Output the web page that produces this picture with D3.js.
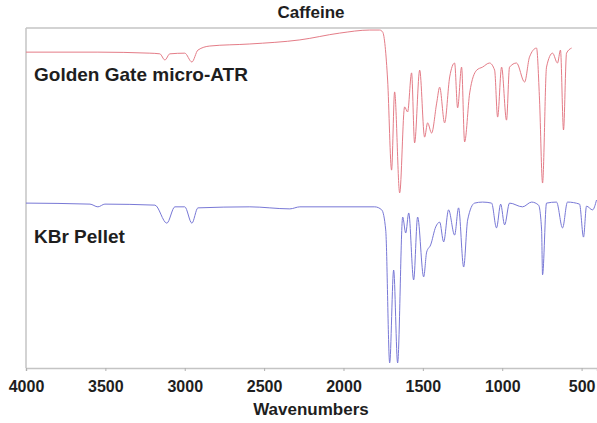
<!DOCTYPE html>
<html>
<head>
<meta charset="utf-8">
<script src="https://cdn.jsdelivr.net/npm/d3@7"></script>
<style>
  body { margin: 0; background: #fff; }
  text { font-family: "Liberation Sans", Arial, sans-serif; font-weight: bold; fill: #1e1e1e; }
</style>
</head>
<body>
<div id="chart"></div>
<script>
//Golden Gate micro-ATR spectrum (wavenumber, transmittance-ish offset units)
var atrWave = [4000, 3547, 3220, 3157, 3125, 3094, 3000, 2955, 2917, 2842, 2590, 2275, 2024, 1835, 1772, 1753,
  1722, 1697, 1678, 1646, 1615, 1596, 1571, 1552, 1520, 1489, 1470, 1445, 1413, 1394, 1363, 1331, 1300,
  1281, 1256, 1237, 1205, 1161, 1124, 1080, 1048, 1029, 1004, 973, 954, 910, 859, 828, 784, 765, 746,
  721, 683, 652, 633, 614, 595, 563];
var atrT = [92.9, 92.9, 92.6, 92.4, 90.6, 92.4, 92.6, 90.0, 93.5, 94.7, 95.3, 96.5, 98.5, 99.4, 99.4, 98.8,
  84.7, 58.2, 81.2, 51.5, 76.8, 75.3, 86.8, 66.2, 87.6, 67.9, 72.1, 69.1, 77.9, 82.6, 72.1, 85.6, 89.7,
  76.5, 88.5, 66.5, 80.9, 87.6, 88.5, 89.7, 87.6, 73.8, 88.5, 72.9, 88.5, 89.7, 84.1, 91.5, 94.1, 78.8, 54.4,
  88.5, 92.6, 89.7, 93.5, 70.0, 92.6, 94.1];

//KBr pellet spectrum
var kbrWave = [4000, 3597, 3547, 3503, 3188, 3113, 3062, 3000, 2955, 2917, 2590, 2338, 2275, 1803, 1759,
  1734, 1709, 1684, 1659, 1627, 1608, 1589, 1558, 1533, 1495, 1476, 1451, 1419, 1394, 1369, 1338, 1300,
  1275, 1243, 1218, 1174, 1124, 1067, 1036, 1010, 985, 954, 872, 815, 771, 752, 746, 721, 658, 620, 589,
  513, 488, 469, 431, 406];
var kbrT = [48.5, 48.2, 47.4, 48.2, 47.9, 42.6, 47.4, 47.4, 42.6, 47.1, 47.4, 46.8, 47.4, 47.4, 46.5,
  40.6, 1.5, 28.8, 1.5, 44.4, 39.7, 45.6, 25.9, 44.4, 26.8, 34.1, 36.2, 41.5, 42.9, 37.1, 46.5, 39.1,
  47.1, 29.7, 43.5, 48.5, 48.8, 48.5, 41.2, 48.2, 42.1, 48.5, 47.4, 48.8, 47.9, 40.6, 27.4, 48.5, 48.8, 41.2, 48.8,
  48.2, 38.5, 47.6, 46.5, 49.4];

var xTicks = [4000, 3500, 3000, 2500, 2000, 1500, 1000, 500];
var seriesLabels = ["Golden Gate micro-ATR", "KBr Pellet"];

var width = 597, height = 423;
var margin = {top: 28, right: 0, bottom: 55, left: 26};

var svg = d3.select("#chart").append("svg")
    .attr("width", width)
    .attr("height", height);

var x = d3.scaleLinear().domain([4000, 403]).range([margin.left, width - margin.right]);
var y = d3.scaleLinear().domain([0, 100]).range([height - margin.bottom, margin.top]);

//frame (top + left), bottom is the axis
svg.append("line")
    .attr("x1", margin.left).attr("x2", width)
    .attr("y1", margin.top).attr("y2", margin.top)
    .attr("stroke", "#c4c4c4").attr("stroke-width", 1.5);
svg.append("line")
    .attr("x1", margin.left).attr("x2", margin.left)
    .attr("y1", margin.top).attr("y2", height - margin.bottom)
    .attr("stroke", "#c4c4c4").attr("stroke-width", 1.5);

var xAxis = svg.append("g")
    .attr("transform", "translate(0," + (height - margin.bottom) + ")")
    .call(d3.axisBottom(x).tickValues(xTicks).tickSize(3).tickPadding(10).tickFormat(d3.format("d")));
xAxis.select(".domain").attr("stroke", "#c4c4c4").attr("stroke-width", 1.5);
xAxis.selectAll(".tick line").attr("stroke", "#b0b0b0");
xAxis.selectAll(".tick text").style("font-size", "16px").attr("fill", "#1e1e1e");

//spectra
var line = d3.line()
    .curve(d3.curveMonotoneX)
    .x(function(d) { return x(d[0]); })
    .y(function(d) { return y(d[1]); });

svg.append("path")
    .datum(d3.zip(atrWave, atrT))
    .attr("d", line)
    .attr("fill", "none")
    .attr("stroke", "#e47c87")
    .attr("stroke-width", 1);

svg.append("path")
    .datum(d3.zip(kbrWave, kbrT))
    .attr("d", line)
    .attr("fill", "none")
    .attr("stroke", "#7878d6")
    .attr("stroke-width", 1);

//texts
svg.append("text")
    .attr("x", 311).attr("y", 18)
    .attr("text-anchor", "middle")
    .style("font-size", "17px")
    .text("Caffeine");

svg.append("text")
    .attr("x", 311).attr("y", 415)
    .attr("text-anchor", "middle")
    .style("font-size", "17px")
    .text("Wavenumbers");

svg.append("text")
    .attr("x", 34).attr("y", 81)
    .style("font-size", "19px")
    .text(seriesLabels[0]);

svg.append("text")
    .attr("x", 34).attr("y", 243)
    .style("font-size", "19px")
    .text(seriesLabels[1]);
</script>
</body>
</html>
